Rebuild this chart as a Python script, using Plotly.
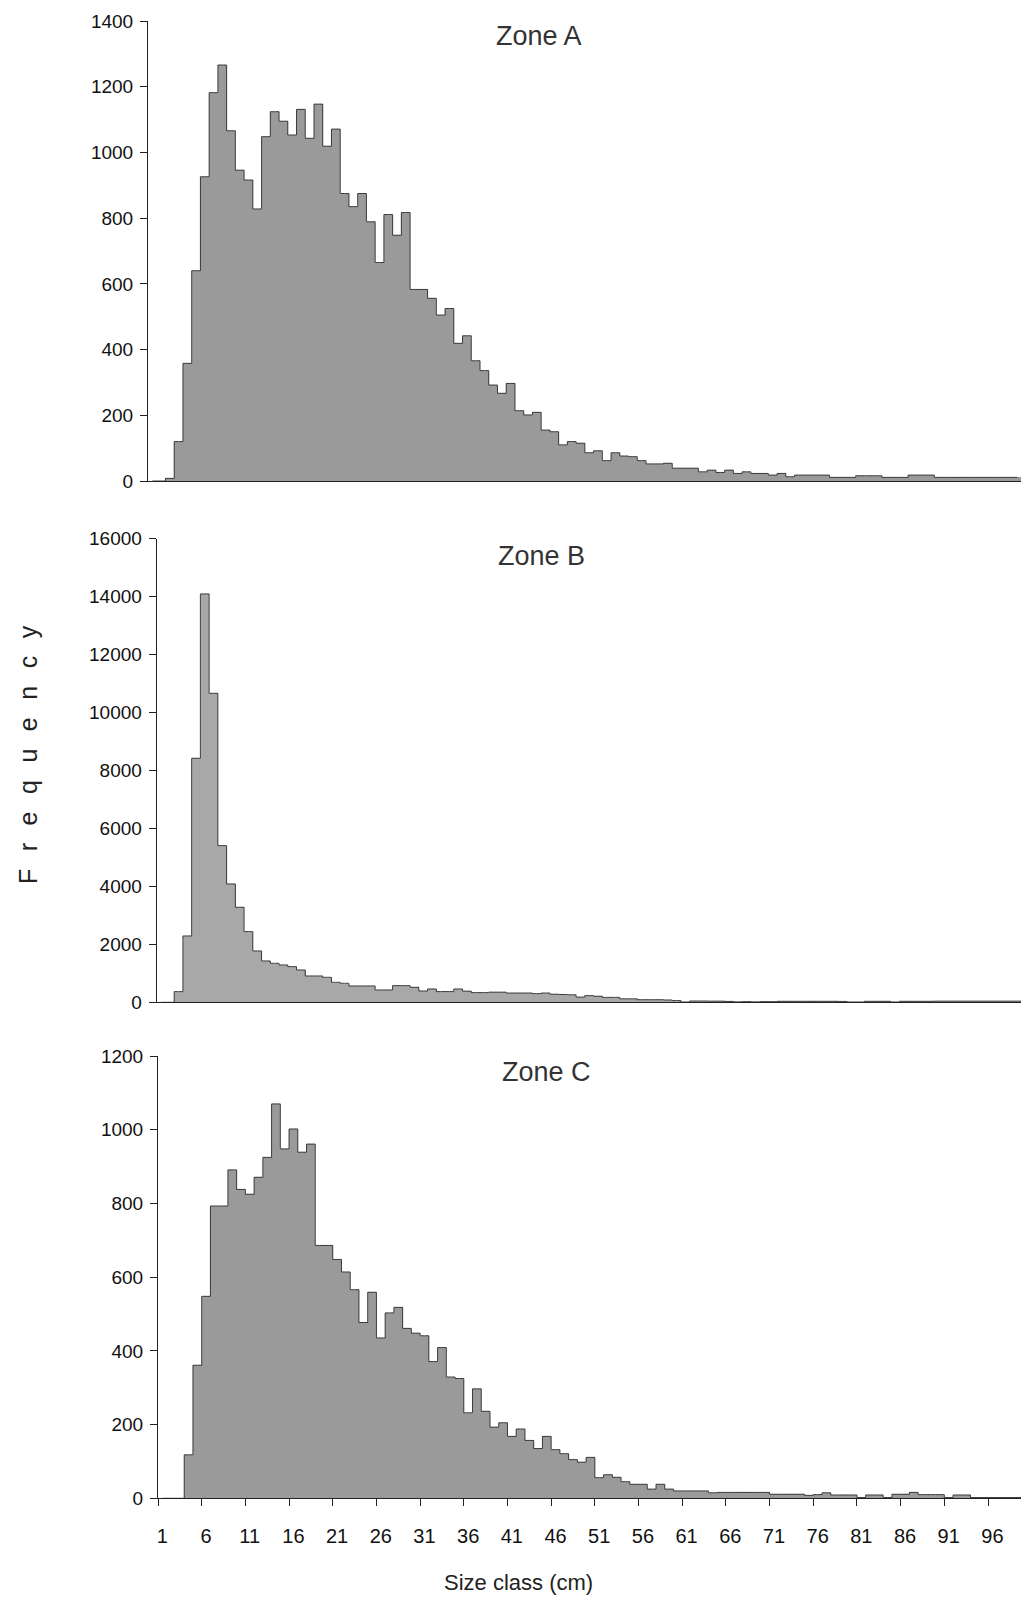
import plotly.graph_objects as go

size_class = list(range(1, 101))

zone_a = [0, 0, 8, 120, 358, 640, 926, 1182, 1266, 1066,
          946, 916, 828, 1048, 1124, 1095, 1053, 1131, 1043, 1147,
          1019, 1071, 875, 835, 875, 789, 665, 811, 748, 817,
          583, 583, 556, 505, 525, 419, 442, 366, 336, 292,
          267, 297, 214, 201, 209, 155, 150, 110, 120, 115,
          86, 92, 62, 86, 76, 74, 62, 52, 52, 54,
          39, 39, 39, 28, 33, 26, 33, 23, 28, 23,
          23, 18, 23, 13, 18, 18, 18, 18, 11, 11,
          11, 16, 16, 16, 11, 11, 11, 18, 18, 18,
          11, 11, 11, 11, 11, 11, 11, 11, 11, 11]

zone_b = [0, 0, 368, 2290, 8424, 14097, 10667, 5408, 4085, 3280,
          2440, 1772, 1427, 1346, 1289, 1231, 1116, 909, 909, 863,
          690, 656, 564, 564, 564, 426, 426, 575, 575, 518,
          390, 460, 370, 370, 460, 385, 334, 334, 350, 350,
          320, 320, 320, 300, 320, 280, 270, 260, 180, 230,
          210, 170, 170, 120, 120, 90, 90, 90, 80, 60,
          10, 45, 45, 40, 40, 30, 15, 20, 15, 20,
          20, 35, 35, 35, 35, 35, 35, 35, 30, 10,
          10, 35, 35, 35, 10, 35, 35, 35, 35, 40,
          40, 40, 40, 40, 40, 40, 40, 40, 40, 40]

zone_c = [0, 0, 0, 118, 361, 548, 793, 793, 891, 838,
          825, 871, 925, 1070, 948, 1002, 939, 961, 686, 686,
          648, 614, 566, 477, 559, 435, 503, 518, 461, 448,
          441, 371, 409, 329, 325, 232, 297, 236, 193, 205,
          168, 188, 157, 135, 168, 132, 121, 105, 98, 111,
          56, 64, 57, 45, 38, 38, 25, 38, 25, 20,
          20, 20, 20, 15, 16, 16, 16, 16, 16, 16,
          11, 11, 11, 11, 8, 10, 15, 9, 9, 9,
          2, 9, 9, 2, 11, 11, 16, 10, 10, 10,
          2, 9, 9, 2, 2, 2, 2, 2, 2, 2]

zone_titles = ["Zone A", "Zone B", "Zone C"]
x_tick_vals = list(range(1, 100, 5))
x_tick_text = [str(v) for v in x_tick_vals]
y_ticks = [list(range(0, 1401, 200)), list(range(0, 16001, 2000)), list(range(0, 1201, 200))]

OFF = 8  # page body margin
PW, PH = 1029, 1600
W, H = PW - OFF, PH - OFF
FONT = "Liberation Sans, Arial, sans-serif"

# geometry in page pixels
panels = [
    dict(x0=148.0, top=21.0, bot=481.0, ymax=1400, fill="#9a9a9a", data=zone_a),
    dict(x0=156.7, top=538.8, bot=1002.3, ymax=16000, fill="#a8a8a8", data=zone_b),
    dict(x0=158.0, top=1056.0, bot=1498.3, ymax=1200, fill="#9a9a9a", data=zone_c),
]
catw = 8.737

def fx(px):
    return (px - OFF) / W

def fy(py):
    return 1 - (py - OFF) / H

fig = go.Figure()
for i, p in enumerate(panels):
    n = "" if i == 0 else str(i + 1)
    xa, ya = "x" + n, "y" + n
    fig.add_trace(go.Bar(x=size_class, y=p["data"], width=1.0, marker=dict(color=p["fill"], line=dict(width=0)),
                         xaxis=xa, yaxis=ya, showlegend=False))
    fig.add_trace(go.Scatter(x=size_class, y=p["data"], mode="lines", line=dict(shape="hvh", color="#3a3a3a", width=1),
                             xaxis=xa, yaxis=ya, showlegend=False, hoverinfo="skip"))
    xmax = 0.5 + (PW - p["x0"]) / catw
    xd = dict(domain=[fx(p["x0"]), 1.0], range=[0.5, xmax], showgrid=False, zeroline=False,
              showline=True, linecolor="#222", linewidth=1, anchor=ya, automargin=False)
    if i == 2:
        xd.update(tickmode="array", tickvals=x_tick_vals, ticktext=x_tick_text, ticks="", ticklen=0,
                  tickfont=dict(family=FONT, size=20, color="#111"), ticklabelstandoff=20,
                  minor=dict(tick0=0.5, dtick=5, ticks="outside", ticklen=7, tickcolor="#222", showgrid=False))
    else:
        xd.update(showticklabels=False, ticks="")
    yd = dict(domain=[fy(p["bot"]), fy(p["top"])], range=[0, p["ymax"]], showgrid=False,
              zeroline=False, showline=True, linecolor="#222", linewidth=1, ticks="outside", ticklen=7,
              tickcolor="#222", tickmode="array", tickvals=y_ticks[i], ticktext=[str(v) for v in y_ticks[i]],
              anchor=xa, automargin=False,
              tickfont=dict(family=FONT, size=19, color="#111"), ticklabelstandoff=3)
    fig.update_layout(**{"xaxis" + n: xd, "yaxis" + n: yd})

title_pos = [(539, 36), (541, 556), (546, 1072)]
for t, (px, py) in zip(zone_titles, title_pos):
    fig.add_annotation(text=t, x=fx(px), y=fy(py), xref="paper", yref="paper", showarrow=False,
                       font=dict(family=FONT, size=27, color="#333"), xanchor="center", yanchor="middle")

sp = "\u2002\u2009"
fig.add_annotation(text=sp.join("Frequency"), x=fx(28), y=fy(755), xref="paper", yref="paper",
                   showarrow=False, textangle=-90, font=dict(family=FONT, size=25, color="#222"),
                   xanchor="center", yanchor="middle")
fig.add_annotation(text="Size class (cm)", x=fx(518), y=fy(1582), xref="paper", yref="paper",
                   showarrow=False, font=dict(family=FONT, size=22, color="#222"),
                   xanchor="center", yanchor="middle")

fig.update_layout(width=W, height=H, margin=dict(l=0, r=0, t=0, b=0, autoexpand=False),
                  paper_bgcolor="white", plot_bgcolor="white", bargap=0)
fig.write_html("out.html")
